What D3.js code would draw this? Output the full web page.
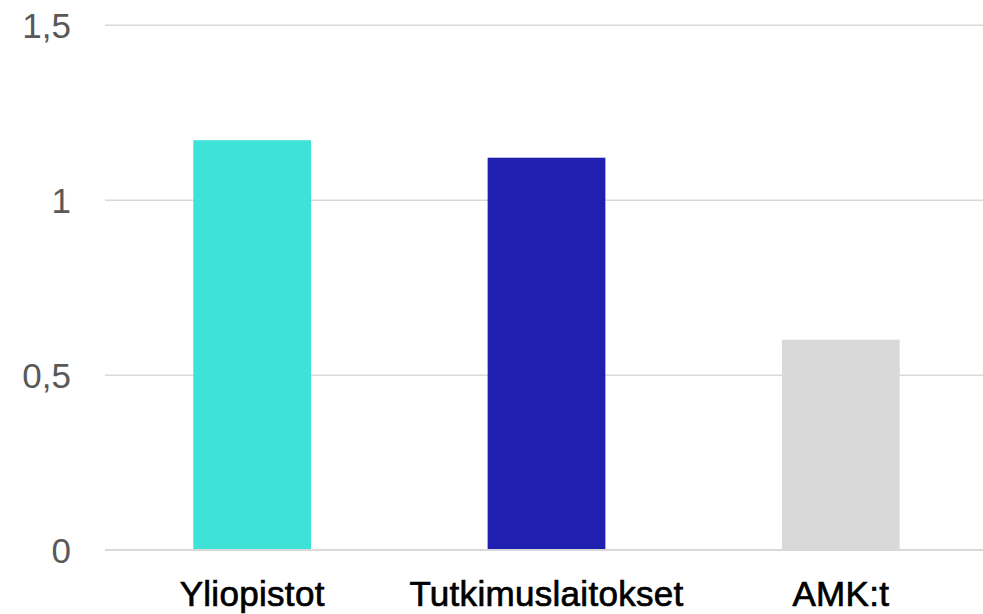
<!DOCTYPE html>
<html>
<head>
<meta charset="utf-8">
<script src="https://cdn.jsdelivr.net/npm/d3@7/dist/d3.min.js"></script>
<style>
  html, body { margin: 0; padding: 0; background: #ffffff; }
  svg { display: block; }
</style>
</head>
<body>
<svg id="chart" width="983" height="614"></svg>
<script>
const categories = ["Yliopistot", "Tutkimuslaitokset", "AMK:t"];
const values = [1.17, 1.12, 0.60];
const barColors = ["#3ee2d7", "#1f20b0", "#d9d9d9"];
const yTicks = [0, 0.5, 1, 1.5];
const yTickLabels = ["0", "0,5", "1", "1,5"];

(function () {
const svg = d3.select("#chart");
const mLeft = 105, mRight = 988, mTop = 24.7, mBottom = 549.7;

const x = d3.scaleBand()
  .domain(categories)
  .range([mLeft, mRight])
  .paddingInner(0.6)
  .paddingOuter(0.3);

const y = d3.scaleLinear()
  .domain([0, 1.5])
  .range([mBottom, mTop]);

// gridlines
const yAxis = d3.axisLeft(y)
  .tickValues(yTicks)
  .tickSize(-(983 - mLeft))
  .tickFormat((d, i) => yTickLabels[i]);

const gy = svg.append("g")
  .attr("transform", `translate(${mLeft},0)`)
  .call(yAxis);
gy.select(".domain").remove();
gy.selectAll(".tick line")
  .attr("stroke", "#d9d9d9")
  .attr("stroke-width", 1.5);
gy.selectAll(".tick text")
  .attr("x", -34)
  .attr("dy", "0.36em")
  .attr("fill", "#595959")
  .style("font-family", "'Liberation Sans', Arial, sans-serif")
  .style("font-size", "35px");

// bars
svg.append("g")
  .selectAll("rect")
  .data(categories)
  .join("rect")
  .attr("x", d => x(d))
  .attr("width", x.bandwidth())
  .attr("y", (d, i) => y(values[i]))
  .attr("height", (d, i) => y(0) - y(values[i]))
  .attr("fill", (d, i) => barColors[i]);

// redraw zero line over bars
svg.append("line")
  .attr("x1", mLeft).attr("x2", 983)
  .attr("y1", y(0)).attr("y2", y(0))
  .attr("stroke", "#d9d9d9")
  .attr("stroke-width", 1.5);

// x axis labels
const xAxis = d3.axisBottom(x).tickSize(0);
const gx = svg.append("g")
  .attr("transform", `translate(0,${mBottom})`)
  .call(xAxis);
gx.select(".domain").remove();
gx.selectAll(".tick text")
  .attr("y", 0)
  .attr("dy", "56px")
  .attr("fill", "#000000")
  .attr("stroke", "#000000")
  .attr("stroke-width", 0.7)
  .style("font-family", "'Liberation Sans', Arial, sans-serif")
  .style("font-size", "35px")
  .style("letter-spacing", "0.3px");
})();
</script>
</body>
</html>
